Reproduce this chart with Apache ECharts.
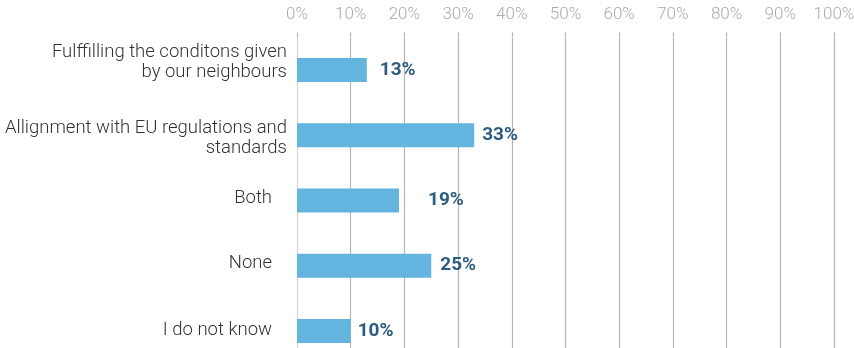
<!DOCTYPE html>
<html>
<head>
<meta charset="utf-8">
<script src="https://cdn.jsdelivr.net/npm/echarts@6/dist/echarts.min.js"></script>
<style>
  html, body { margin: 0; padding: 0; background: #fff; }
  #chart { width: 854px; height: 348px; }
</style>
</head>
<body>
<div id="chart"></div>
<script>
// Survey answers and their shares (percent)
const categories = [
  'Fulffilling the conditons given\nby our neighbours',
  'Allignment with EU regulations and\nstandards',
  'Both',
  'None',
  'I do not know'
];
const shares = [13, 33, 19, 25, 10];
const tickValues = [0, 10, 20, 30, 40, 50, 60, 70, 80, 90, 100];

// Category label layout: spacer line above / below (px) and right inset (px)
const rowSpaceAbove = [0, 6, 0, 0, 0];
const rowSpaceBelow = [16, 0, 5, 4, 2];
const rowRightInset = [0, 0, 15, 15, 15];
const valueLabelGap = [13, 8, 29, 9, 7];

const labelFont = {
  color: '#333333',
  fontFamily: 'Roboto',
  fontWeight: 300,
  fontSize: 18.5,
  lineHeight: 20,
  align: 'right'
};

const rich = {};
rowRightInset.forEach((inset, r) => {
  rich['t' + r] = Object.assign({}, labelFont, { padding: [0, inset, 0, 0] });
});
[2, 4, 5, 6, 16].forEach(h => {
  rich['s' + h] = { fontSize: 1, lineHeight: h, height: h };
});

function categoryLabel(value, index) {
  const lines = value.split('\n').map(line => '{t' + index + '|' + line + '}');
  if (rowSpaceAbove[index]) lines.unshift('{s' + rowSpaceAbove[index] + '| }');
  if (rowSpaceBelow[index]) lines.push('{s' + rowSpaceBelow[index] + '| }');
  return lines.join('\n');
}

const chart = echarts.init(document.getElementById('chart'), null, { renderer: 'canvas' });

const gridColors = tickValues.map((v, i) => (i === 0 ? '#d6d6d6' : '#b6b6b6'));

chart.setOption({
  animation: false,
  grid: {
    left: 297, right: 20, top: 37.4, height: 326.2,
    containLabel: false,
    outerBoundsMode: 'none'
  },
  xAxis: {
    type: 'value',
    position: 'top',
    min: 0,
    max: 100,
    interval: 10,
    axisLine: { show: false },
    axisTick: { show: true, length: 5, lineStyle: { color: '#b6b6b6', width: 1.2 } },
    splitLine: { show: true, lineStyle: { color: gridColors, width: 1.2 } },
    axisLabel: {
      margin: 14,
      formatter: v => v + '%',
      color: '#ababab',
      fontFamily: 'Roboto',
      fontWeight: 300,
      fontSize: 17
    }
  },
  yAxis: {
    type: 'category',
    inverse: true,
    data: categories,
    axisLine: { show: false },
    axisTick: { show: false },
    axisLabel: Object.assign({}, labelFont, {
      margin: 10,
      rich: rich,
      formatter: categoryLabel
    })
  },
  series: [{
    type: 'bar',
    barWidth: 24,
    itemStyle: { color: '#63b5df' },
    data: shares.map((v, i) => ({
      value: v,
      label: { distance: valueLabelGap[i] }
    })),
    label: {
      show: true,
      position: 'right',
      formatter: p => p.value + '%',
      color: '#2e5c80',
      fontFamily: 'Roboto',
      fontWeight: 'bold',
      fontSize: 19
    }
  }]
});
</script>
</body>
</html>
